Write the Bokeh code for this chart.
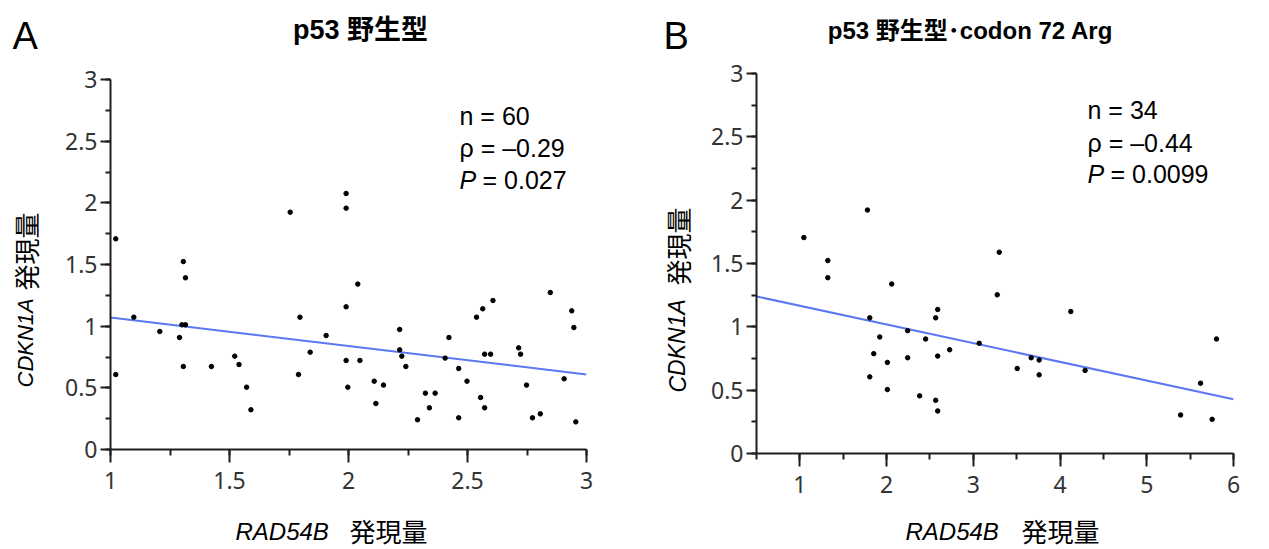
from bokeh.plotting import figure
from bokeh.models import Label, SingleIntervalTicker, CustomJSTickFormatter, Range1d
from bokeh.layouts import row, column
from bokeh.embed import file_html
from bokeh.resources import INLINE

# ---------------- data: panel A (p53 wild type, n = 60) ----------------
a_rad54b = [1.022, 1.022, 1.098, 1.207, 1.29, 1.306, 1.315, 1.30, 1.315, 1.306,
            1.424, 1.522, 1.54, 1.572, 1.59, 1.755, 1.79, 1.796, 1.839, 1.906,
            1.99, 1.99, 1.99, 1.99, 1.997, 2.039, 2.048, 2.108, 2.115, 2.147,
            2.215, 2.215, 2.224, 2.241, 2.29, 2.323, 2.34, 2.364, 2.406, 2.422,
            2.463, 2.463, 2.498, 2.538, 2.555, 2.564, 2.572, 2.572, 2.597, 2.607,
            2.715, 2.723, 2.748, 2.773, 2.806, 2.848, 2.906, 2.938, 2.947, 2.955]
a_cdkn1a = [1.708, 0.608, 1.073, 0.957, 0.908, 1.524, 1.392, 1.011, 1.011, 0.673,
            0.673, 0.757, 0.689, 0.505, 0.322, 1.924, 0.608, 1.073, 0.789, 0.924,
            2.076, 1.957, 1.157, 0.722, 0.505, 1.341, 0.722, 0.554, 0.373, 0.522,
            0.973, 0.808, 0.757, 0.673, 0.241, 0.457, 0.338, 0.457, 0.741, 0.908,
            0.657, 0.257, 0.554, 1.073, 0.422, 1.141, 0.773, 0.338, 0.773, 1.208,
            0.824, 0.773, 0.522, 0.257, 0.289, 1.273, 0.573, 1.124, 0.989, 0.224]
a_fit_x = [1.0, 3.0]
a_fit_y = [1.070, 0.608]
a_stats = ["n = 60", "ρ = –0.29", "= 0.027"]

# ---------------- data: panel B (p53 wild type, codon 72 Arg, n = 34) ----------------
b_rad54b = [1.046, 1.322, 1.322, 1.779, 1.806, 1.806, 1.852, 1.921, 2.009, 2.009,
            2.059, 2.243, 2.243, 2.381, 2.45, 2.566, 2.589, 2.589, 2.566, 2.589,
            2.727, 3.068, 3.276, 3.299, 3.506, 3.667, 3.759, 3.759, 4.124, 4.289,
            5.39, 5.62, 5.754, 5.804]
b_cdkn1a = [1.705, 1.523, 1.388, 1.922, 1.071, 0.605, 0.788, 0.920, 0.719, 0.505,
            1.338, 0.970, 0.756, 0.455, 0.904, 1.071, 1.137, 0.769, 0.420, 0.336,
            0.819, 0.870, 1.253, 1.589, 0.671, 0.756, 0.738, 0.621, 1.121, 0.656,
            0.304, 0.555, 0.270, 0.904]
b_fit_x = [0.5, 6.0]
b_fit_y = [1.24, 0.428]
b_stats = ["n = 34", "ρ = –0.44", "= 0.0099"]

TICK_FONT = "Noto Sans"
TEXT_FONT = "Liberation Sans"
CJK_FONT = "Noto Sans CJK JP"
AXIS_COLOR = "#1e1e1e"
FIG_H = 549
BASE_SHIFT = 0.37   # em: measured offset of Bokeh's alphabetic baseline in this renderer


class Panel:
    def __init__(self, x0, fig_w, frame_l, frame_r, frame_t, frame_b, xr, yr, x_int,
                 xs, ys, fx, fy):
        self.x0 = x0
        self.fl, self.fr, self.ft, self.fb = frame_l, frame_r, frame_t, frame_b
        self.xr, self.yr = xr, yr
        p = figure(width=fig_w, height=FIG_H, output_backend="svg", toolbar_location=None,
                   x_range=Range1d(*xr), y_range=Range1d(*yr),
                   min_border_left=frame_l - x0, min_border_right=x0 + fig_w - frame_r,
                   min_border_top=frame_t, min_border_bottom=FIG_H - frame_b)
        p.outline_line_color = None
        p.xgrid.visible = False
        p.ygrid.visible = False
        p.background_fill_color = "white"
        p.border_fill_color = "white"
        fmt = CustomJSTickFormatter(code="return String(Math.round(tick*100)/100);")
        p.xaxis.ticker = SingleIntervalTicker(interval=x_int, num_minor_ticks=2)
        p.yaxis.ticker = SingleIntervalTicker(interval=0.5, num_minor_ticks=2)
        for ax, tout, mout, stand in ((p.xaxis, 13, 6, 9), (p.yaxis, 10, 5, 3)):
            ax.formatter = fmt
            ax.axis_line_color = AXIS_COLOR
            ax.axis_line_width = 2
            ax.major_tick_line_color = AXIS_COLOR
            ax.major_tick_line_width = 2
            ax.minor_tick_line_color = AXIS_COLOR
            ax.minor_tick_line_width = 2
            ax.major_tick_in = 0
            ax.major_tick_out = tout
            ax.minor_tick_in = 0
            ax.minor_tick_out = mout
            ax.major_label_text_font = TICK_FONT
            ax.major_label_text_font_size = "23px"
            ax.major_label_text_color = "#333333"
            ax.major_label_standoff = stand
        p.line(fx, fy, line_color="#5b78f2", line_width=2)
        p.scatter(xs, ys, size=4.5, marker="circle", fill_color="black", line_color="black")
        self.p = p

    def data_xy(self, px, py):
        # convert a page pixel position to this panel's data coordinates (text placement only)
        x = self.xr[0] + (px - self.fl) * (self.xr[1] - self.xr[0]) / (self.fr - self.fl)
        y = self.yr[0] + (self.fb - py) * (self.yr[1] - self.yr[0]) / (self.fb - self.ft)
        return x, y

    def text(self, place, px, py, text, size, style="normal", align="left",
             baseline="alphabetic", angle=0.0, font=TEXT_FONT):
        if baseline == "alphabetic":
            py -= BASE_SHIFT * size
        x, y = self.data_xy(px, py)
        lab = Label(x=x, y=y, x_units="data", y_units="data", text=text,
                    text_font=font, text_font_size=f"{size}px", text_font_style=style,
                    text_color="black", text_align=align, text_baseline=baseline,
                    angle=angle, angle_units="rad")
        if place == "center":
            self.p.add_layout(lab)
        else:
            self.p.add_layout(lab, place)


ROT = 1.5708

# Panel A  (page x 0..640)
A = Panel(0, 640, 110, 586, 79, 449, (1, 3), (0, 3), 0.5,
          a_rad54b, a_cdkn1a, a_fit_x, a_fit_y)
A.text("left", 12, 50, "A", 38)
A.text("above", 360, 39, "p53 野生型", 27, style="bold", align="center",
       font=TEXT_FONT + ", " + CJK_FONT)
A.text("center", 459, 125, a_stats[0], 25)
A.text("center", 459, 157, a_stats[1], 25)
A.text("center", 459, 189, "P", 25, style="italic")
A.text("center", 482, 189, a_stats[2], 25)
A.text("right", 25, 387, "CDKN1A", 22, style="italic", baseline="middle", angle=ROT)
A.text("left", 25, 290, "発現量", 26, baseline="middle", angle=ROT, font=CJK_FONT)
A.text("below", 235, 540, "RAD54B", 24, style="italic")
A.text("above", 349, 540, "発現量", 26, font=CJK_FONT)

# Panel B  (page x 640..1269)
B = Panel(640, 629, 756, 1233, 73, 453, (0.5, 6), (0, 3), 1,
          b_rad54b, b_cdkn1a, b_fit_x, b_fit_y)
B.text("right", 663, 50, "B", 38)
B.text("above", 970, 39, "p53 野生型･codon 72 Arg", 24, style="bold", align="center",
       font=TEXT_FONT + ", " + CJK_FONT)
B.text("center", 1087, 119, b_stats[0], 25)
B.text("center", 1087, 152, b_stats[1], 25)
B.text("center", 1087, 183, "P", 25, style="italic")
B.text("center", 1110, 183, b_stats[2], 25)
B.text("left", 677, 392, "CDKN1A", 23, style="italic", baseline="middle", angle=ROT)
B.text("left", 677, 285, "発現量", 26, baseline="middle", angle=ROT, font=CJK_FONT)
B.text("below", 905, 540, "RAD54B", 24, style="italic")
B.text("above", 1021, 540, "発現量", 26, font=CJK_FONT)

layout = row(column(A.p), column(B.p))
open("out.html", "w").write(file_html(layout, INLINE))
